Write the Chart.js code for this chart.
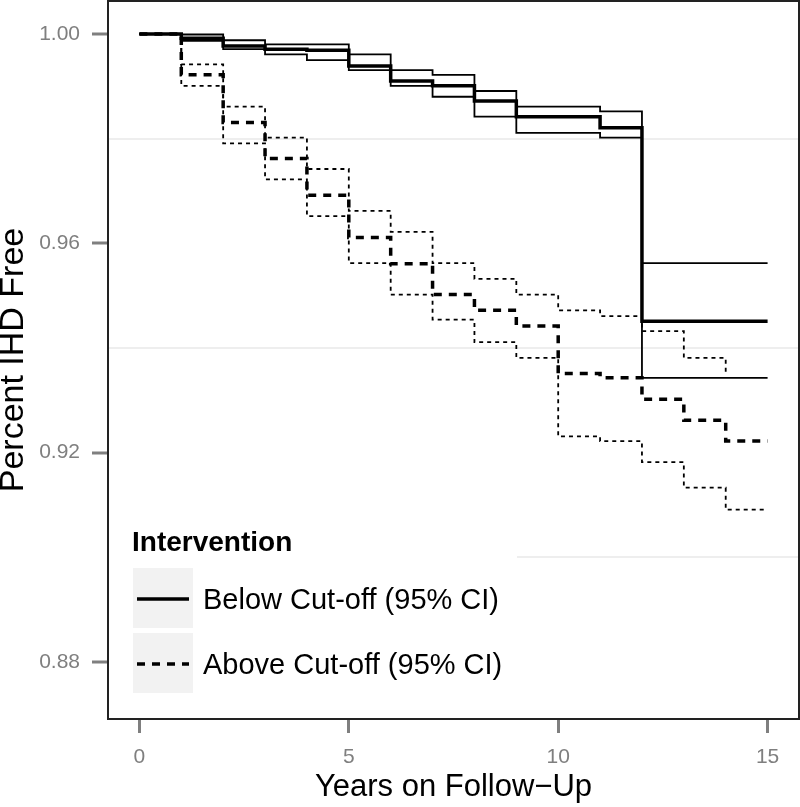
<!DOCTYPE html>
<html>
<head>
<meta charset="utf-8">
<title>Percent IHD Free</title>
<script src="https://cdn.jsdelivr.net/npm/chart.js@4.4.1/dist/chart.umd.min.js"></script>
<style>
  html, body { margin: 0; padding: 0; background: #fff; }
  #wrap { width: 800px; height: 807px; }
</style>
</head>
<body>
<div id="wrap"><canvas id="kmChart" width="800" height="807"></canvas></div>
<script>
// follow-up year at which each step starts (last entry closes the curve)
var years = [0, 1, 2, 3, 4, 5, 6, 7, 8, 9, 10, 11, 12, 13, 14, 15];

var belowEstimate = [1.0000, 0.9992, 0.9977, 0.9971, 0.9969, 0.9939, 0.9910, 0.9901, 0.9872, 0.9842, 0.9842, 0.9821, 0.9451, 0.9451, 0.9451, 0.9451];
var belowUpper    = [1.0000, 0.9999, 0.9988, 0.9980, 0.9980, 0.9961, 0.9931, 0.9922, 0.9891, 0.9861, 0.9861, 0.9852, 0.9562, 0.9562, 0.9562, 0.9562];
var belowLower    = [1.0000, 0.9987, 0.9971, 0.9961, 0.9950, 0.9931, 0.9901, 0.9880, 0.9842, 0.9811, 0.9811, 0.9802, 0.9343, 0.9343, 0.9343, 0.9343];

var aboveEstimate = [1.0000, 0.9922, 0.9831, 0.9762, 0.9692, 0.9611, 0.9561, 0.9502, 0.9472, 0.9442, 0.9351, 0.9343, 0.9302, 0.9262, 0.9222, 0.9222];
var aboveUpper    = [1.0000, 0.9942, 0.9861, 0.9802, 0.9742, 0.9662, 0.9622, 0.9562, 0.9532, 0.9502, 0.9472, 0.9461, 0.9432, 0.9381, 0.9351, null];
var aboveLower    = [1.0000, 0.9901, 0.9791, 0.9722, 0.9652, 0.9562, 0.9502, 0.9454, 0.9411, 0.9381, 0.9231, 0.9222, 0.9182, 0.9133, 0.9091, 0.9091];

var groupNames = ['Below Cut-off (95% CI)', 'Above Cut-off (95% CI)'];
var legendTitle = 'Intervention';
var yTickLabels = [0.88, 0.92, 0.96, 1.00];
var yMinorGrid = [0.90, 0.94, 0.98];
var xTickLabels = [0, 5, 10, 15];

var fontFamily = '"Liberation Sans", Arial, Helvetica, sans-serif';
var estDash = [8, 7];
var ciDash = [4, 4];

function toPoints(values) {
    var pts = [];
    for (var i = 0; i < years.length; i++) {
        if (values[i] !== null) pts.push({ x: years[i], y: values[i] });
    }
    return pts;
}

function stepLine(label, values, width, dash) {
    return {
        label: label,
        data: toPoints(values),
        borderColor: '#000',
        borderWidth: width,
        borderDash: dash,
        stepped: true,
        pointRadius: 0,
        fill: false
    };
}

function isMajorY(v) {
    return yTickLabels.indexOf(v) >= 0;
}

// panel border + legend inside the plot (bottom left)
var panelAndLegend = {
    id: 'panelAndLegend',
    afterDraw: function(chart) {
        var ctx = chart.ctx;
        var a = chart.chartArea;
        ctx.save();

        ctx.fillStyle = '#fff';
        ctx.fillRect(a.left + 1, a.bottom - 200, 408, 186);

        ctx.fillStyle = '#000';
        ctx.textBaseline = 'alphabetic';
        ctx.font = 'bold 28px ' + fontFamily;
        ctx.fillText(legendTitle, a.left + 24, a.bottom - 168);

        var keyDash = [[], estDash];
        for (var i = 0; i < groupNames.length; i++) {
            var top = a.bottom - 151 + i * 65;
            ctx.fillStyle = '#f2f2f2';
            ctx.fillRect(a.left + 25, top, 60, 60);
            ctx.strokeStyle = '#000';
            ctx.lineWidth = 3.5;
            ctx.setLineDash(keyDash[i]);
            ctx.beginPath();
            ctx.moveTo(a.left + 29, top + 31);
            ctx.lineTo(a.left + 81, top + 31);
            ctx.stroke();
            ctx.setLineDash([]);
            ctx.fillStyle = '#000';
            ctx.font = '29px ' + fontFamily;
            ctx.fillText(groupNames[i], a.left + 95, top + 41);
        }

        ctx.strokeStyle = '#222';
        ctx.lineWidth = 2;
        ctx.strokeRect(a.left, a.top, a.right - a.left, a.bottom - a.top);
        ctx.restore();
    }
};

var ctx = document.getElementById('kmChart').getContext('2d');
Chart.defaults.font.family = fontFamily;

var chart = new Chart(ctx, {
    type: 'line',
    data: {
        datasets: [
            stepLine('Below Cut-off', belowEstimate, 3.5, []),
            stepLine('Below upper CI', belowUpper, 1.8, []),
            stepLine('Below lower CI', belowLower, 1.8, []),
            stepLine('Above Cut-off', aboveEstimate, 3.5, estDash),
            stepLine('Above upper CI', aboveUpper, 1.8, ciDash),
            stepLine('Above lower CI', aboveLower, 1.8, ciDash)
        ]
    },
    options: {
        responsive: false,
        animation: false,
        devicePixelRatio: 1,
        layout: { padding: { top: 1, right: 1, left: 0, bottom: 0 } },
        plugins: {
            legend: { display: false },
            tooltip: { enabled: false }
        },
        scales: {
            x: {
                type: 'linear',
                min: -0.75,
                max: 15.75,
                afterBuildTicks: function(scale) {
                    scale.ticks = xTickLabels.map(function(v) { return { value: v }; });
                },
                afterFit: function(scale) {
                    scale.height = 88;
                    scale.paddingLeft = 0;
                    scale.paddingRight = 0;
                },
                ticks: {
                    color: '#7f7f7f',
                    font: { size: 21 },
                    padding: 12,
                    maxRotation: 0,
                    autoSkip: false,
                    callback: function(v) { return String(v); }
                },
                grid: {
                    drawOnChartArea: false,
                    tickLength: 14,
                    tickWidth: 3,
                    tickColor: '#7f7f7f'
                },
                border: { display: false },
                title: {
                    display: true,
                    text: 'Years on Follow\u2212Up',
                    color: '#000',
                    font: { size: 31, lineHeight: 1.2 },
                    padding: { top: 0, bottom: 1 }
                }
            },
            y: {
                type: 'linear',
                min: 0.8691,
                max: 1.0063,
                afterBuildTicks: function(scale) {
                    scale.ticks = yTickLabels.concat(yMinorGrid)
                        .sort(function(p, q) { return p - q; })
                        .map(function(v) { return { value: v }; });
                },
                afterFit: function(scale) {
                    scale.width = 108;
                    scale.paddingTop = 0;
                    scale.paddingBottom = 0;
                },
                ticks: {
                    color: '#7f7f7f',
                    font: { size: 21 },
                    padding: 12,
                    autoSkip: false,
                    callback: function(v) { return isMajorY(v) ? v.toFixed(2) : ''; }
                },
                grid: {
                    tickLength: 16,
                    tickWidth: 3,
                    lineWidth: 2,
                    color: function(c) { return c.tick && isMajorY(c.tick.value) ? 'rgba(0,0,0,0)' : '#eeeeee'; },
                    tickColor: function(c) { return c.tick && isMajorY(c.tick.value) ? '#7f7f7f' : 'rgba(0,0,0,0)'; }
                },
                border: { display: false },
                title: {
                    display: true,
                    text: 'Percent IHD Free',
                    color: '#000',
                    font: { size: 34, lineHeight: 1 },
                    padding: { top: -3, bottom: 0 }
                }
            }
        }
    },
    plugins: [panelAndLegend]
});
</script>
</body>
</html>
